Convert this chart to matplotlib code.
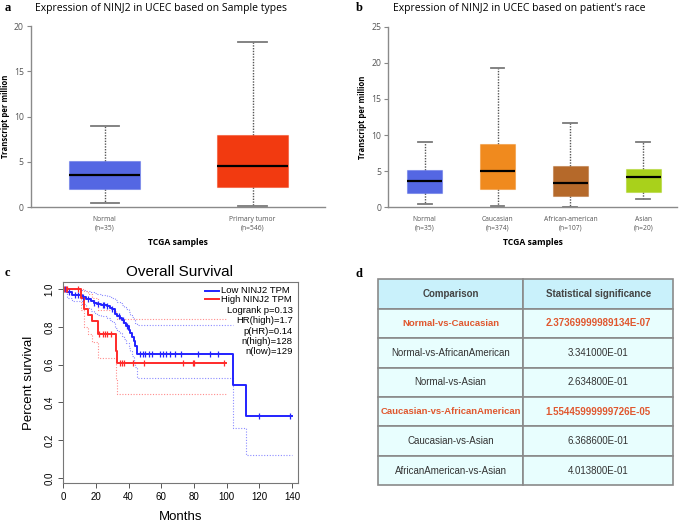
import numpy as np
import matplotlib
matplotlib.use("Agg")
import matplotlib.pyplot as plt

# ---- panel a: expression by sample type ----
type_labels = ["Normal\n(n=35)", "Primary tumor\n(n=546)"]
type_whislo = [0.45, 0.15]
type_q1 = [2.02, 2.2]
type_med = [3.6, 4.6]
type_q3 = [5.15, 8.0]
type_whishi = [9.0, 18.2]
type_colors = ["#5467e3", "#f23a10"]

# ---- panel b: expression by race ----
race_labels = ["Normal\n(n=35)", "Caucasian\n(n=374)", "African-american\n(n=107)", "Asian\n(n=20)"]
race_whislo = [0.46, 0.18, 0.09, 1.2]
race_q1 = [2.02, 2.5, 1.56, 2.16]
race_med = [3.64, 5.07, 3.41, 4.19]
race_q3 = [5.16, 8.72, 5.76, 5.35]
race_whishi = [9.04, 19.3, 11.7, 9.04]
race_colors = ["#5467e3", "#f08a1e", "#b5692a", "#a9d11b"]

# ---- panel c: overall survival ----
low_t = [0, 2.4, 5.5, 11.6, 14, 16.7, 18.5, 20.7, 23, 26.9, 28.5, 29.9, 31.9, 33, 35, 36, 37,
         38.5, 40, 41, 42.1, 43.1, 44.2, 45.2, 104, 112, 140]
low_s = [1.0, 0.984, 0.968, 0.960, 0.945, 0.935, 0.928, 0.920, 0.915, 0.908, 0.900, 0.892, 0.868,
         0.855, 0.845, 0.835, 0.820, 0.805, 0.785, 0.768, 0.748, 0.725, 0.700, 0.655, 0.49, 0.33, 0.33]
low_upper = [1.0, 1.0, 1.0, 0.995, 0.99, 0.985, 0.98, 0.975, 0.97, 0.965, 0.96, 0.955, 0.94, 0.93,
             0.925, 0.915, 0.905, 0.895, 0.88, 0.865, 0.85, 0.835, 0.82, 0.81, np.nan, np.nan, np.nan]
low_lower = [1.0, 0.955, 0.935, 0.92, 0.90, 0.885, 0.875, 0.865, 0.855, 0.845, 0.835, 0.825, 0.795,
             0.78, 0.765, 0.75, 0.735, 0.715, 0.69, 0.67, 0.645, 0.62, 0.59, 0.53, 0.265, 0.12, 0.12]
low_censor = [1, 3.5, 7, 9, 12, 15, 19, 21, 24, 25, 27, 30, 34, 36.5, 39, 47.2, 48.8, 50, 52.7,
              54.3, 59, 60.8, 62.9, 65.6, 68.2, 72.3, 82.2, 90, 94.6, 120, 139]

high_t = [0, 11, 12.6, 15, 17.5, 21.1, 32, 33, 99.5]
high_s = [1.0, 0.952, 0.896, 0.861, 0.829, 0.764, 0.67, 0.61, 0.61]
high_upper = [1.0, 1.0, 0.99, 0.975, 0.955, 0.89, 0.86, 0.84, 0.84]
high_lower = [1.0, 0.89, 0.80, 0.76, 0.72, 0.635, 0.52, 0.445, 0.445]
high_censor = [0.5, 1.5, 2.5, 9, 22, 24, 25.5, 27, 29, 34.6, 36, 37, 42.7, 49.6, 73.3, 79.3, 79.8, 98.1]

legend_names = ["Low NINJ2 TPM", "High NINJ2 TPM"]
stats_lines = ["Logrank p=0.13", "HR(high)=1.7", "p(HR)=0.14", "n(high)=128", "n(low)=129"]

# ---- panel d: table ----
table_header = ["Comparison", "Statistical significance"]
comparisons = ["Normal-vs-Caucasian", "Normal-vs-AfricanAmerican", "Normal-vs-Asian",
               "Caucasian-vs-AfricanAmerican", "Caucasian-vs-Asian", "AfricanAmerican-vs-Asian"]
pvalues = ["2.37369999989134E-07", "3.341000E-01", "2.634800E-01",
           "1.55445999999726E-05", "6.368600E-01", "4.013800E-01"]
significant = [True, False, False, True, False, False]

W, H = 685, 523
fig = plt.figure(figsize=(W / 100, H / 100), dpi=100)
box_font = "Open Sans"


def px_axes(left, top, right, bottom):
    return fig.add_axes([left / W, 1 - bottom / H, (right - left) / W, (bottom - top) / H])


def boxpanel(ax, labels, lo, q1, med, q3, hi, colors, ymax, step, xmax):
    stats = []
    for i in range(len(labels)):
        stats.append(dict(whislo=lo[i], q1=q1[i], med=med[i], q3=q3[i], whishi=hi[i], fliers=[]))
    pos = np.arange(1, len(labels) + 1)
    res = ax.bxp(stats, positions=pos, widths=0.48, patch_artist=True, capwidths=0.19,
                 showfliers=False,
                 medianprops=dict(color="black", linewidth=1.6),
                 whiskerprops=dict(color="#555555", linestyle=(0, (1, 1)), linewidth=1.0),
                 capprops=dict(color="#7a7a7a", linewidth=1.3))
    for patch, c in zip(res["boxes"], colors):
        patch.set_facecolor(c)
        patch.set_edgecolor(matplotlib.colors.to_rgba(c, 0.45))
        patch.set_linewidth(0.8)
    for w in res["whiskers"]:
        w.set_zorder(1)
    ax.set_ylim(0, ymax)
    ax.set_xlim(0.5, xmax)
    ax.set_yticks(np.arange(0, ymax + 0.1, step))
    ax.set_xticks(pos)
    ax.set_xticklabels(labels, fontsize=4.9, color="#555555", family=box_font, linespacing=1.3)
    ax.tick_params(axis="x", length=0, pad=6)
    ax.tick_params(axis="y", length=3, width=0.8, color="#888888", labelsize=6.2,
                   labelcolor="#555555", pad=2)
    for t in ax.get_yticklabels():
        t.set_family(box_font)
    for s in ["top", "right"]:
        ax.spines[s].set_visible(False)
    for s in ["left", "bottom"]:
        ax.spines[s].set_color("#8a8a8a")
        ax.spines[s].set_linewidth(1.0)
    ax.set_ylabel("Transcript per million", fontsize=5.6, fontweight="bold", family=box_font, labelpad=3)
    ax.set_xlabel("TCGA samples", fontsize=6.2, fontweight="bold", family=box_font, labelpad=5)


# panel a
ax_a = px_axes(30.7, 26, 325, 207.3)
boxpanel(ax_a, type_labels, type_whislo, type_q1, type_med, type_q3, type_whishi, type_colors,
         20, 5, 2.49)
fig.text(161 / W, 1 - 8 / H, "Expression of NINJ2 in UCEC based on Sample types", ha="center",
         va="center", fontsize=7.5, family=box_font)

# panel b
ax_b = px_axes(388.3, 26.7, 676.7, 207.3)
boxpanel(ax_b, race_labels, race_whislo, race_q1, race_med, race_q3, race_whishi, race_colors,
         25, 5, 4.46)
fig.text(519 / W, 1 - 8 / H, "Expression of NINJ2 in UCEC based on patient's race", ha="center",
         va="center", fontsize=7.5, family=box_font)

# panel c
ax_c = px_axes(63.3, 281.7, 297.7, 483.3)
surv_font = "Liberation Sans"
blue, red = "#2323ff", "#ff2a2a"


def censor_y(t, s, ct):
    idx = np.searchsorted(np.array(t), np.array(ct), side="right") - 1
    return np.array(s)[idx]


dots = (0, (1, 1.5))
ax_c.step(low_t, low_upper, where="post", color="#8c8cff", linestyle=dots, linewidth=0.8)
ax_c.step(low_t, low_lower, where="post", color="#8c8cff", linestyle=dots, linewidth=0.8)
ax_c.step(high_t, high_upper, where="post", color="#ff8c8c", linestyle=dots, linewidth=0.8)
ax_c.step(high_t, high_lower, where="post", color="#ff8c8c", linestyle=dots, linewidth=0.8)
ax_c.step(low_t, low_s, where="post", color=blue, linewidth=1.4)
ax_c.step(high_t, high_s, where="post", color=red, linewidth=1.4)
ax_c.plot(low_censor, censor_y(low_t, low_s, low_censor), "|", color=blue, markersize=4, mew=0.9)
ax_c.plot(high_censor, censor_y(high_t, high_s, high_censor), "|", color=red, markersize=4, mew=0.9)

ax_c.set_xlim(0, 143.5)
ax_c.set_ylim(-0.028, 1.039)
ax_c.set_xticks(np.arange(0, 141, 20))
ax_c.set_yticks(np.arange(0, 1.01, 0.2))
ax_c.set_yticklabels(["0.0", "0.2", "0.4", "0.6", "0.8", "1.0"], rotation=90, va="center",
                     family=surv_font)
ax_c.set_xticklabels([str(v) for v in range(0, 141, 20)], family=surv_font)
ax_c.tick_params(labelsize=7, length=3.5, width=0.7, color="#555555", pad=3)
for s in ax_c.spines.values():
    s.set_color("#777777")
    s.set_linewidth(0.8)
ax_c.set_xlabel("Months", fontsize=9.5, family=surv_font, labelpad=6)
ax_c.set_ylabel("Percent survival", fontsize=9.5, family=surv_font, labelpad=7)
fig.text(180 / W, 1 - 272.5 / H, "Overall Survival", ha="center", va="center", fontsize=11,
         family=surv_font)

# legend keys and stats text, R style
for i, (name, col) in enumerate(zip(legend_names, [blue, red])):
    yk = 0.954 - i * 0.041
    ax_c.plot([0.605, 0.666], [yk, yk], color=col, linewidth=1.4, transform=ax_c.transAxes)
    ax_c.text(0.6715, yk, name, transform=ax_c.transAxes, ha="left", va="center",
              fontsize=6.8, family=surv_font)
for i, line in enumerate(stats_lines):
    ax_c.text(0.979, 0.856 - i * 0.0508, line, transform=ax_c.transAxes, ha="right", va="center",
              fontsize=6.8, family=surv_font)

# panel d
ax_d = px_axes(377.7, 279.3, 673.3, 485.3)
ax_d.axis("off")
cell_text = [[c, p] for c, p in zip(comparisons, pvalues)]
tbl = ax_d.table(cellText=cell_text, colLabels=table_header, bbox=[0, 0, 1, 1],
                 colWidths=[0.4926, 0.5074], cellLoc="center")
tbl.auto_set_font_size(False)
for (r, c), cell in tbl.get_celld().items():
    cell.set_edgecolor("#8a8a8a")
    cell.set_linewidth(1.2)
    txt = cell.get_text()
    txt.set_family("Liberation Sans")
    txt.set_fontsize(7)
    if r == 0:
        cell.set_facecolor("#c9f1fb")
        txt.set_fontweight("bold")
        txt.set_color("#444444")
    else:
        cell.set_facecolor("#e8fefe")
        if significant[r - 1]:
            txt.set_color("#e0572e")
            txt.set_fontweight("bold")
            if c == 0:
                txt.set_fontsize(6.8)
        else:
            txt.set_color("#333333")

# panel letters
for letter, x, y in [("a", 5, 8), ("b", 356, 8), ("c", 5, 273), ("d", 356, 274)]:
    fig.text(x / W, 1 - y / H, letter, ha="left", va="center", fontsize=9, fontweight="bold",
             family="Liberation Serif")

fig.savefig("out.png", dpi=100)
